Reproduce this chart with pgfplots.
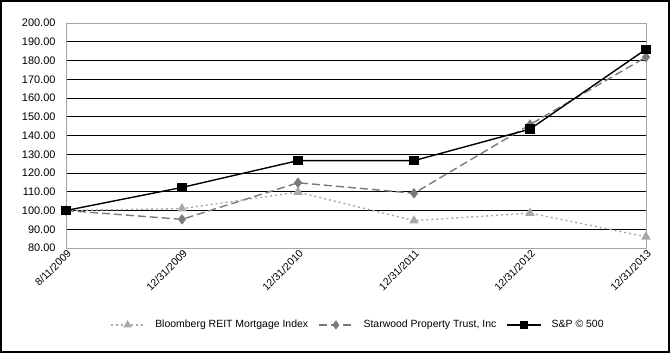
\documentclass[border=0pt]{standalone}
\usepackage{pgfplots}
\pgfplotsset{compat=1.18}
\usepackage{fontspec}
\setmainfont{Liberation Sans}
\definecolor{bloom}{HTML}{A8A8A8}
\definecolor{star}{HTML}{7A7A7A}
\begin{document}
\begin{tikzpicture}[x=1bp,y=1bp]
\draw[line width=2bp] (-65,-104) rectangle (603,247);
\begin{axis}[
  at={(0,0)}, anchor=south west,
  scale only axis, width=580bp, height=225bp,
  xmin=0, xmax=5, ymin=80, ymax=200,
  xtick={0,1,2,3,4,5},
  xticklabels={8/11/2009,12/31/2009,12/31/2010,12/31/2011,12/31/2012,12/31/2013},
  ytick={80,90,...,200},
  major tick length=0,
  ymajorgrids, grid style={black, line width=0.8bp},
  axis line style={gray!70, line width=0.8bp},
  /pgf/number format/.cd, fixed, fixed zerofill, precision=2, assume math mode=true,
  /pgfplots/.cd,
  yticklabel style={font=\fontsize{11}{12}\selectfont, xshift=-7bp},
  xticklabel style={font=\fontsize{10.5}{12}\selectfont, rotate=45, anchor=east, yshift=-5bp, xshift=3bp},
  legend style={draw=none, at={(0.503,-0.342)}, anchor=center, font=\fontsize{10.5}{12}\selectfont, column sep=8bp},
  legend columns=3,
  legend image code/.code={\draw[#1] (0bp,0bp) -- (34bp,0bp); \draw[#1, solid, mark size=3.5bp] plot coordinates {(17bp,0bp)};},
]
\addplot[bloom, line width=1.4bp, dash pattern=on 2bp off 3bp, mark=triangle*, mark size=4.2bp, mark options={solid, fill=bloom}]
  coordinates {(0,100) (1,101) (2,109.8) (3,94.6) (4,98.6) (5,86)};
\addlegendentry{Bloomberg REIT Mortgage Index}
\addplot[star, line width=1.4bp, dash pattern=on 8bp off 4bp, mark=diamond*, mark size=4.2bp, mark options={solid, fill=star}]
  coordinates {(0,100) (1,95.3) (2,114.8) (3,109.2) (4,145.8) (5,181.8)};
\addlegendentry{Starwood Property Trust, Inc}
\addplot[black, line width=1.4bp, mark=square*, mark size=4bp, mark options={solid, fill=black}]
  coordinates {(0,100) (1,112.3) (2,126.6) (3,126.6) (4,143.4) (5,186)};
\addlegendentry{S\&P © 500}
\end{axis}
\end{tikzpicture}
\end{document}
